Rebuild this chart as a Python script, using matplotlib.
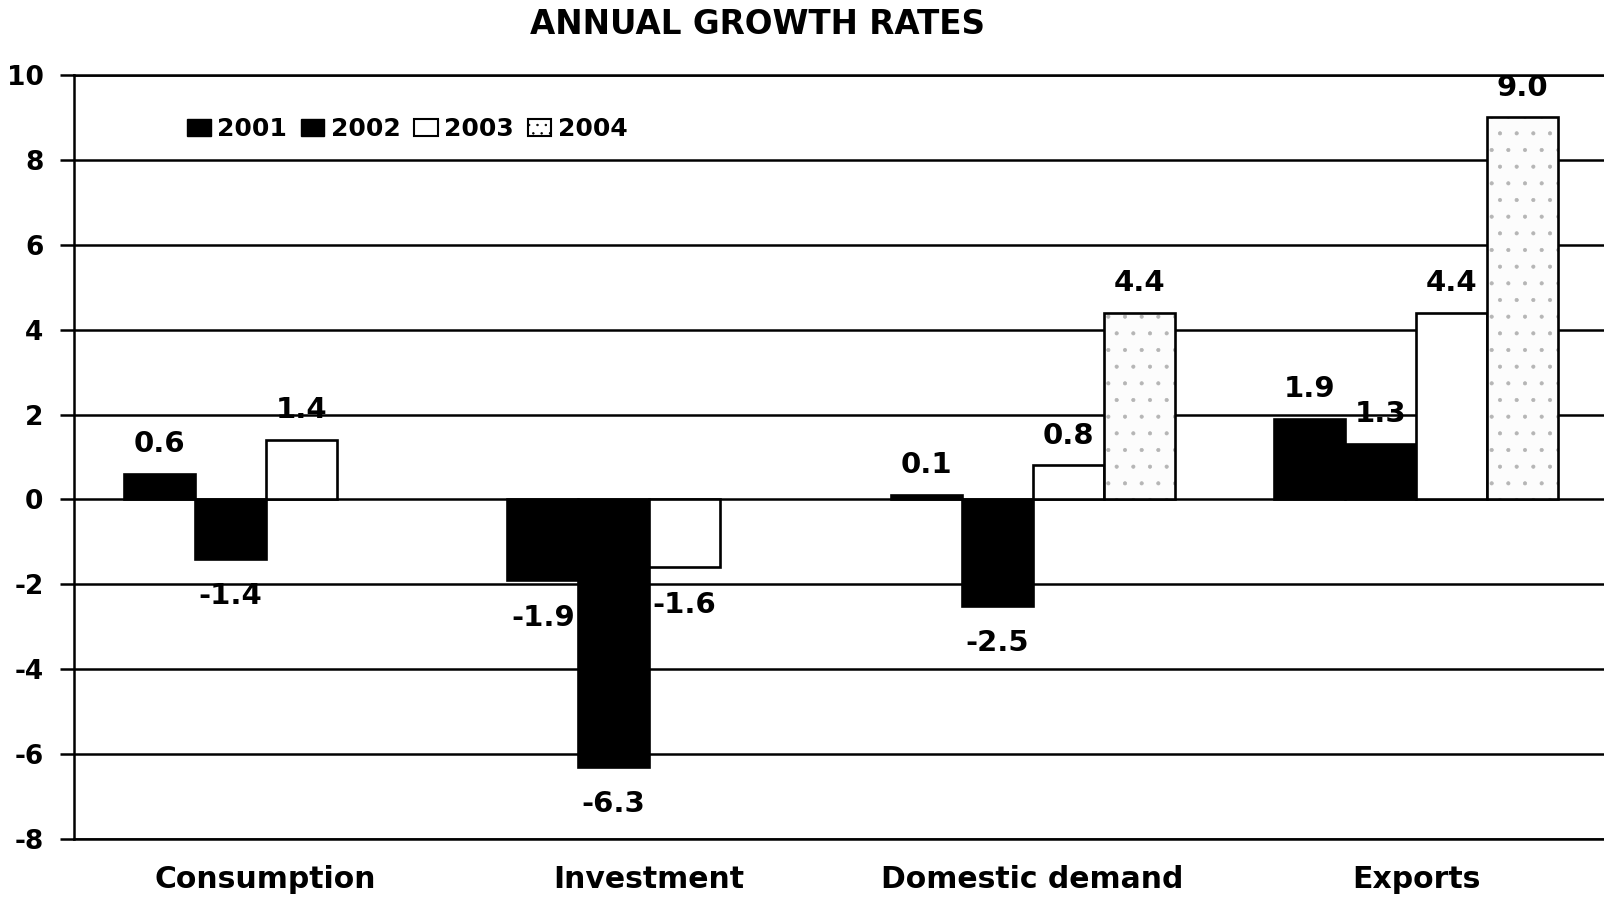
import numpy as np
import matplotlib.pyplot as plt
from matplotlib.patches import Patch

categories = ["Consumption", "Investment", "Domestic demand", "Exports"]
years = ["2001", "2002", "2003", "2004"]
g2001 = [0.6, -1.9, 0.1, 1.9]
g2002 = [-1.4, -6.3, -2.5, 1.3]
g2003 = [1.4, -1.6, 0.8, 4.4]
g2004 = [np.nan, np.nan, 4.4, 9.0]
yticks = [-8, -6, -4, -2, 0, 2, 4, 6, 8, 10]

plt.rcParams["font.family"] = "DejaVu Sans"
plt.rcParams["font.weight"] = "bold"
plt.rcParams["hatch.linewidth"] = 0.5

fig = plt.figure(figsize=(16.04, 8.98), dpi=100)
ax = fig.add_axes([74 / 1604, 1 - 839 / 898, 1530 / 1604, 764 / 898])

x = np.arange(len(categories))
w = 0.185
lw = 1.9
series = [g2001, g2002, g2003, g2004]
offsets = [-1.5 * w, -0.5 * w, 0.5 * w, 1.5 * w]

# 2001, 2002 black, 2003 white
ax.bar(x + offsets[0], g2001, w, color="black", edgecolor="black", lw=lw, zorder=3)
ax.bar(x + offsets[1], g2002, w, color="black", edgecolor="black", lw=lw, zorder=3)
ax.bar(x + offsets[2], g2003, w, color="white", edgecolor="black", lw=lw, zorder=3)
# 2004 stippled: hatch layer then outline
ax.bar(x + offsets[3], g2004, w, color="#fcfcfc", edgecolor="#b5b5b5", hatch=".", lw=0, zorder=3)
ax.bar(x + offsets[3], g2004, w, fill=False, edgecolor="black", lw=lw, zorder=3.1)

for s, off in zip(series, offsets):
    for xi, v in zip(x, s):
        if np.isnan(v):
            continue
        dy = 21.5 if v >= 0 else -27
        ax.annotate(f"{v:.1f}", (xi + off, v), xytext=(0, dy), textcoords="offset points",
                    ha="center", va="center", fontsize=21, fontweight="bold", zorder=2)

ax.set_xlim(-0.5, 3.49)
ax.set_ylim(-8, 10)
ax.set_yticks(yticks)
ax.set_yticklabels([str(t) for t in yticks])
ax.set_xticks(x)
ax.set_xticklabels(categories)
ax.tick_params(axis="y", length=10, width=1.8, pad=12, labelsize=19)
ax.tick_params(axis="x", length=0, pad=19, labelsize=21.5)
ax.yaxis.grid(True, color="black", lw=1.8)
ax.set_axisbelow(True)
ax.spines["right"].set_visible(False)
for side in ["left", "top", "bottom"]:
    ax.spines[side].set_linewidth(1.8)

handles = [
    Patch(facecolor="black", edgecolor="black"),
    Patch(facecolor="black", edgecolor="black"),
    Patch(facecolor="white", edgecolor="black", lw=1.5),
    Patch(facecolor="white", edgecolor="black", lw=1.5, hatch=".."),
]
fig.legend(handles, years, loc="center left", bbox_to_anchor=(187 / 1604, 1 - 129 / 898),
           ncol=4, frameon=False, fontsize=18, handlelength=0.95, handleheight=0.66,
           handletextpad=0.25, columnspacing=0.55, borderpad=0, borderaxespad=0)

fig.text(758 / 1604, 1 - 34 / 898, "ANNUAL GROWTH RATES", ha="center", va="baseline",
         fontsize=23.5, fontweight="bold")

plt.savefig("out.png", dpi=100)
